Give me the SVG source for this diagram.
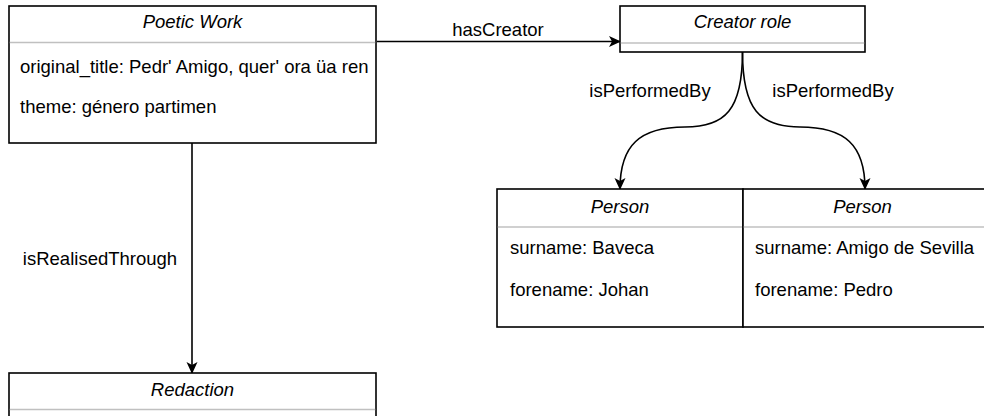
<svg xmlns="http://www.w3.org/2000/svg" width="984" height="416" viewBox="0 0 984 416">
  <style>
    .box { fill: #ffffff; stroke: #000000; stroke-width: 1.6; }
    .sep { stroke: #c0c0c0; stroke-width: 1.6; }
    .title { font-family: "Liberation Sans", Arial, sans-serif; font-size: 18.5px; font-style: italic; text-anchor: middle; fill: #000000; }
    .attr { font-family: "Liberation Sans", Arial, sans-serif; font-size: 18.5px; fill: #000000; }
    .label { font-family: "Liberation Sans", Arial, sans-serif; font-size: 18.5px; text-anchor: middle; fill: #000000; }
    .edge { fill: none; stroke: #000000; stroke-width: 1.6; }
  </style>
  <defs>
    <marker id="arrow" viewBox="0 0 12 12" refX="11" refY="6" markerWidth="12" markerHeight="12" markerUnits="userSpaceOnUse" orient="auto">
      <path d="M0,0.5 L12,6 L0,11.5 L3,6 Z" fill="#000000"/>
    </marker>
  </defs>

  <rect width="984" height="416" fill="#ffffff"/>

  <!-- connectors -->
  <g id="connectors">
    <line class="edge" x1="377" y1="41.5" x2="620" y2="41.5" marker-end="url(#arrow)"/>
    <text class="label" x="498" y="36">hasCreator</text>

    <line class="edge" x1="192" y1="143" x2="192" y2="373" marker-end="url(#arrow)"/>
    <text class="label" x="100" y="265">isRealisedThrough</text>

    <path class="edge" d="M742.5,52 C742.5,110 725,127 685,127 C640,127 620,145 620,189" marker-end="url(#arrow)"/>
    <text class="label" x="650" y="97">isPerformedBy</text>

    <path class="edge" d="M742.5,52 C742.5,110 760,127 800,127 C845,127 865,145 865,189" marker-end="url(#arrow)"/>
    <text class="label" x="833" y="97">isPerformedBy</text>
  </g>

  <!-- Poetic Work -->
  <g id="poetic-work">
    <rect class="box" x="9" y="6" width="367" height="137"/>
    <line class="sep" x1="9.8" y1="42.5" x2="375.2" y2="42.5"/>
    <text class="title" x="192.5" y="28">Poetic Work</text>
    <text class="attr" x="20" y="73">original_title: Pedr' Amigo, quer' ora üa ren</text>
    <text class="attr" x="20" y="113">theme: género partimen</text>
  </g>

  <!-- Creator role -->
  <g id="creator-role">
    <rect class="box" x="620" y="6" width="245" height="46"/>
    <line class="sep" x1="620.8" y1="43" x2="864.2" y2="43"/>
    <text class="title" x="742.5" y="28">Creator role</text>
  </g>

  <!-- Person: Baveca -->
  <g id="person-baveca">
    <rect class="box" x="497" y="189" width="246" height="138"/>
    <line class="sep" x1="497.8" y1="227" x2="742.2" y2="227"/>
    <text class="title" x="620" y="213">Person</text>
    <text class="attr" x="510" y="254">surname: Baveca</text>
    <text class="attr" x="510" y="296">forename: Johan</text>
  </g>

  <!-- Person: Amigo de Sevilla -->
  <g id="person-amigo">
    <rect class="box" x="743" y="189" width="250" height="138"/>
    <line class="sep" x1="743.8" y1="227" x2="984" y2="227"/>
    <text class="title" x="862.5" y="213">Person</text>
    <text class="attr" x="755" y="254">surname: Amigo de Sevilla</text>
    <text class="attr" x="755" y="296">forename: Pedro</text>
  </g>

  <!-- Redaction -->
  <g id="redaction">
    <rect class="box" x="9" y="373" width="367" height="80"/>
    <line class="sep" x1="9.8" y1="409.5" x2="375.2" y2="409.5"/>
    <text class="title" x="192.5" y="396">Redaction</text>
  </g>
</svg>
